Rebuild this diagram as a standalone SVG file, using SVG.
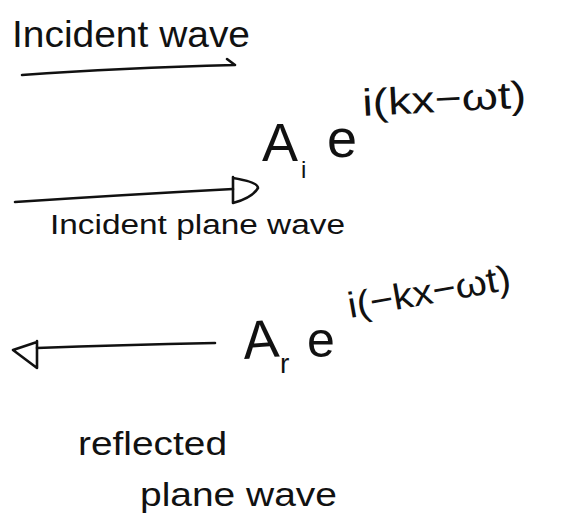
<svg xmlns="http://www.w3.org/2000/svg" width="584" height="528" viewBox="0 0 584 528">
<style>
  .hw { font-family: "Liberation Sans", "DejaVu Sans", sans-serif; fill: #111; }
  .ln { fill: none; stroke: #111; stroke-width: 2.6; stroke-linecap: round; stroke-linejoin: round; }
</style>
<rect width="584" height="528" fill="#fff"/>
<g id="title">
  <text class="hw" x="12" y="47" font-size="36" textLength="238" lengthAdjust="spacingAndGlyphs">Incident wave</text>
</g>
<g id="incident-formula">
  <text class="hw" x="262" y="161" font-size="54">A</text>
  <text class="hw" x="301" y="178" font-size="24">i</text>
  <text class="hw" x="327" y="157" font-size="54">e</text>
  <text class="hw" x="363" y="116" font-size="38" textLength="164" lengthAdjust="spacingAndGlyphs" transform="rotate(-3 363 116)">i(kx−ωt)</text>
</g>
<g id="incident-label">
  <text class="hw" x="50" y="234" font-size="27" textLength="295" lengthAdjust="spacingAndGlyphs">Incident plane wave</text>
</g>
<g id="reflected-formula">
  <text class="hw" x="244" y="359" font-size="54" transform="rotate(-4 244 359)">A</text>
  <text class="hw" x="280" y="373" font-size="28">r</text>
  <text class="hw" x="307" y="357" font-size="50">e</text>
  <text class="hw" x="350" y="318" font-size="36" textLength="165" lengthAdjust="spacingAndGlyphs" transform="rotate(-10 350 318)">i(−kx−ωt)</text>
</g>
<g id="reflected-label">
  <text class="hw" x="78" y="455" font-size="34" textLength="149" lengthAdjust="spacingAndGlyphs">reflected</text>
  <text class="hw" x="140" y="506" font-size="34" textLength="197" lengthAdjust="spacingAndGlyphs">plane wave</text>
</g>
<g id="connectors">
  <path class="ln" d="M22 75 Q120 68 235 65 M227 59 L235 65"/>
  <path class="ln" d="M15 202 Q120 195 233 189"/>
  <path class="ln" d="M233 177 L233 203 M233 178 Q258 182 258 188 Q252 198 233 203"/>
  <path class="ln" d="M37 348 Q120 345 215 343"/>
  <path class="ln" d="M37 341 L37 368 M37 342 L13 350 L37 368"/>
</g>
</svg>
